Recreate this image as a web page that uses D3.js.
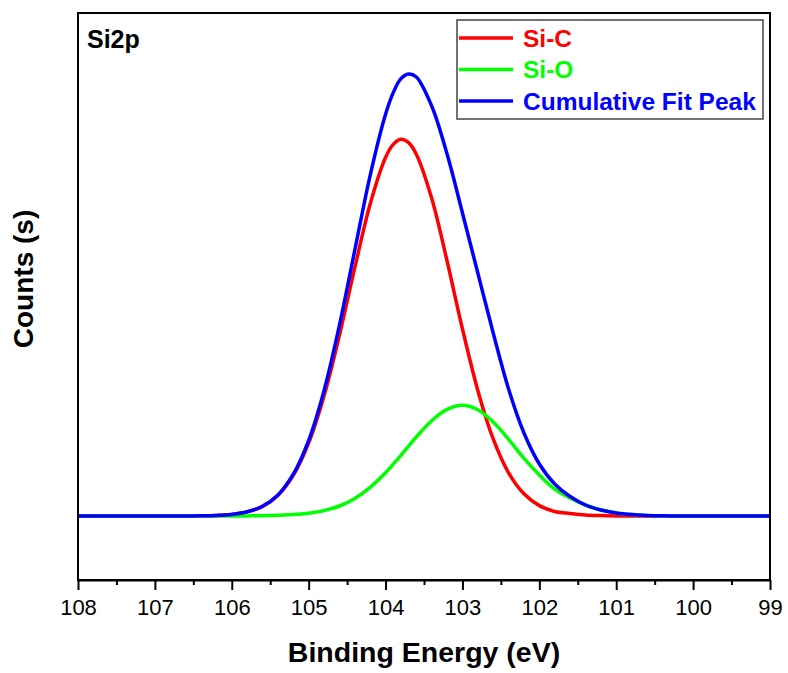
<!DOCTYPE html>
<html lang="en">
<head>
<meta charset="utf-8">
<title>Si2p</title>
<script src="https://d3js.org/d3.v7.min.js"></script>
<style>
  body { margin: 0; background: #fff; }
  text { font-family: "Liberation Sans", Arial, sans-serif; }
</style>
</head>
<body>
<div id="chart"></div>
<script>

// binding energy (eV)
var energy = [108.0, 107.8, 107.6, 107.4, 107.2, 107.0, 106.8, 106.6, 106.4, 106.2,
              106.0, 105.8, 105.6, 105.4, 105.2, 105.0, 104.8, 104.6, 104.4, 104.2,
              104.0, 103.9, 103.8, 103.7, 103.6, 103.4, 103.2, 103.0, 102.8, 102.6,
              102.4, 102.2, 102.0, 101.8, 101.6, 101.4, 101.2, 101.0, 100.8, 100.6,
              100.4, 100.2, 100.0, 99.8, 99.6, 99.4, 99.2, 99.0];

// counts (a.u.) for each series
var siC = [0, 0, 0, 0, 0, 0, 0.01, 0.05, 0.18, 0.56,
           1.6, 4.1, 9.6, 20.6, 40.6, 73.1, 120.1, 180.6, 248.3, 312.0,
           358.5, 371.6, 376.7, 373.3, 361.8, 317.7, 255.0, 187.2, 125.6, 77.1,
           43.2, 22.2, 10.4, 4.5, 2.5, 1.0, 0.4, 0.1, 0, 0,
           0, 0, 0, 0, 0, 0, 0, 0];

var siO = [0, 0, 0, 0, 0, 0, 0, 0, 0, 0.01,
           0.05, 0.1, 0.3, 0.7, 1.4, 2.8, 5.4, 10.0, 17.6, 28.7,
           43.3, 51.8, 60.7, 69.9, 79.0, 95.3, 106.6, 110.7, 106.3, 94.0,
           76.7, 57.6, 41.0, 27.0, 18.0, 11.0, 6.0, 3.0, 1.4, 0.6,
           0.2, 0, 0, 0, 0, 0, 0, 0];

var cumulative = [0, 0, 0, 0, 0, 0, 0.01, 0.05, 0.2, 0.6,
                  1.6, 4.2, 9.8, 21.1, 41.8, 75.7, 125.4, 190.6, 265.9, 340.7,
                  401.8, 423.4, 437.4, 442.0, 439.0, 410.0, 362.0, 303.0, 243.0, 183.0,
                  127.0, 83.0, 52.0, 32.0, 19.5, 11.0, 6.0, 3.0, 1.4, 0.6,
                  0.2, 0, 0, 0, 0, 0, 0, 0];

var seriesNames = ["Si-C", "Si-O", "Cumulative Fit Peak"];
var seriesColors = ["#ff0000", "#00ff00", "#0000ff"];
var seriesValues = [siC, siO, cumulative];

var xTicks = [108, 107, 106, 105, 104, 103, 102, 101, 100, 99];
var xMinorTicks = [107.5, 106.5, 105.5, 104.5, 103.5, 102.5, 101.5, 100.5, 99.5];
var xDomain = [108, 99];
var yDomain = [-64, 503];

var W = 788, H = 673;
var margin = {top: 13, right: 18, bottom: 93, left: 78},
    width = W - margin.left - margin.right,
    height = H - margin.top - margin.bottom;

var svg = d3.select("#chart").append("svg")
    .attr("width", W)
    .attr("height", H);

var g = svg.append("g")
    .attr("transform", "translate(" + margin.left + "," + margin.top + ")");

var x = d3.scaleLinear().domain(xDomain).range([0, width]);
var y = d3.scaleLinear().domain(yDomain).range([height, 0]);

g.append("clipPath").attr("id", "clip")
  .append("rect").attr("width", width).attr("height", height);

// curves
var line = d3.line()
    .x(function(d) { return x(d[0]); })
    .y(function(d) { return y(d[1]); })
    .curve(d3.curveCatmullRom);

seriesValues.forEach(function(vals, i) {
  g.append("path")
    .datum(energy.map(function(e, j) { return [e, vals[j]]; }))
    .attr("clip-path", "url(#clip)")
    .attr("fill", "none")
    .attr("stroke", seriesColors[i])
    .attr("stroke-width", 3.5)
    .attr("stroke-linejoin", "round")
    .attr("d", line);
});

// frame
g.append("rect")
  .attr("width", width).attr("height", height)
  .attr("fill", "none").attr("stroke", "#000").attr("stroke-width", 2);

// bottom axis, major + minor ticks
var xAxis = g.append("g")
    .attr("transform", "translate(0," + height + ")")
    .call(d3.axisBottom(x).tickValues(xTicks).tickSize(10).tickSizeOuter(0).tickPadding(9)
            .tickFormat(d3.format("d")));
xAxis.select(".domain").attr("stroke-width", 2);
xAxis.selectAll(".tick line").attr("stroke-width", 2);
xAxis.selectAll(".tick text")
    .attr("font-size", 22).attr("fill", "#000")
    .style("font-family", "'Liberation Sans', Arial, sans-serif");

var xMinor = g.append("g")
    .attr("transform", "translate(0," + height + ")")
    .call(d3.axisBottom(x).tickValues(xMinorTicks).tickSize(5).tickSizeOuter(0).tickFormat(""));
xMinor.select(".domain").remove();
xMinor.selectAll(".tick line").attr("stroke-width", 2);

// axis titles
svg.append("text")
    .attr("x", margin.left + width / 2)
    .attr("y", 662)
    .attr("text-anchor", "middle")
    .attr("font-size", 28.5).attr("font-weight", "bold")
    .text("Binding Energy (eV)");

svg.append("text")
    .attr("transform", "translate(33,279) rotate(-90)")
    .attr("text-anchor", "middle")
    .attr("font-size", 28).attr("font-weight", "bold")
    .text("Counts (s)");

// panel label
svg.append("text")
    .attr("x", 87).attr("y", 48)
    .attr("font-size", 25).attr("font-weight", "bold")
    .text("Si2p");

// legend
var legend = svg.append("g").attr("transform", "translate(457,20)");
legend.append("rect")
    .attr("width", 306).attr("height", 99)
    .attr("fill", "#fff").attr("stroke", "#444").attr("stroke-width", 1.5);

seriesNames.forEach(function(name, i) {
  var ly = 18 + i * 31.5;
  legend.append("line")
    .attr("x1", 2).attr("x2", 56)
    .attr("y1", ly).attr("y2", ly)
    .attr("stroke", seriesColors[i]).attr("stroke-width", 3.5);
  legend.append("text")
    .attr("x", 66).attr("y", ly + 8.5)
    .attr("font-size", 24.5).attr("font-weight", "bold")
    .attr("fill", seriesColors[i])
    .text(name);
});

</script>
</body>
</html>
